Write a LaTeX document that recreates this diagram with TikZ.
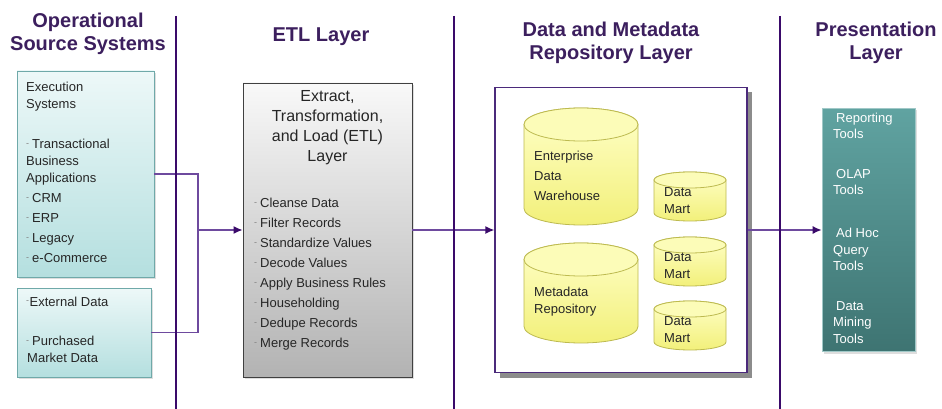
\documentclass[tikz,border=0pt]{standalone}
\usepackage{fontspec}
\setmainfont{Liberation Sans}
\usetikzlibrary{shadows,arrows.meta}
\definecolor{vline}{HTML}{3A0A6A}
\definecolor{ttl}{HTML}{3C1F5E}
\definecolor{conn}{HTML}{6E4A9E}
\definecolor{tip}{HTML}{3A0A6A}
\definecolor{cyanborder}{HTML}{6FA9A9}
\definecolor{cyantop}{HTML}{EDF8F8}
\definecolor{cyanbot}{HTML}{B4DFDF}
\definecolor{presTop}{HTML}{60A3A1}
\definecolor{presBot}{HTML}{3E7472}
\definecolor{cylTop}{HTML}{FFFFC8}
\definecolor{cylBot}{HTML}{F2F07A}
\definecolor{cylBorder}{HTML}{BDBA50}
\definecolor{repoBorder}{HTML}{4B2A7B}
\newcommand{\dbcyl}[5]{%
  \pgfmathsetmacro\cx{(#1+#2)/2}%
  \pgfmathsetmacro\rx{(#2-#1)/2}%
  \path[cylbody] (#1,#3+#5) -- (#1,#4-#5)
     arc[start angle=180,end angle=360,x radius=\rx pt,y radius=#5 pt]
     -- (#2,#3+#5)
     arc[start angle=0,end angle=180,x radius=\rx pt,y radius=#5 pt] -- cycle;
  \path[cyltop] (\cx,#3+#5) ellipse[x radius=\rx pt, y radius=#5 pt];
}
\begin{document}
\begin{tikzpicture}[x=1pt,y=-1pt,
  title/.style={font=\fontsize{20}{23}\selectfont\bfseries, text=ttl, align=center, inner sep=0pt},
  body/.style={font=\fontsize{13}{16}\selectfont, text=black!85, anchor=west, inner sep=0pt, text height=9.5pt, text depth=2.5pt},
  wbody/.style={body, text=white},
  dsh/.style={font=\fontsize{9}{10}\selectfont, text=gray, anchor=west, inner sep=0pt},
  vsep/.style={draw=vline, line width=2.8pt},
  conline/.style={draw=conn, line width=1.5pt},
  conarrow/.style={conline, -{Latex[length=9pt,width=8pt,fill=tip,color=tip]}},
  srcbox/.style={draw=cyanborder, line width=0.8pt, top color=cyantop, bottom color=cyanbot,
     drop shadow={shadow xshift=2pt, shadow yshift=-2pt, fill=gray!50}},
  etlbox/.style={draw=black!75, line width=0.8pt, top color=gray!5, bottom color=gray!60,
     drop shadow={shadow xshift=2pt, shadow yshift=-2pt, fill=gray!50}},
  repobox/.style={draw=repoBorder, line width=1.2pt, fill=white,
     drop shadow={shadow xshift=5pt, shadow yshift=-5pt, fill=black!45, opacity=1}},
  presbox/.style={draw=presTop!60!white, line width=0.6pt, top color=presTop, bottom color=presBot,
     drop shadow={shadow xshift=2pt, shadow yshift=-2pt, fill=gray!50}},
  cylbody/.style={draw=cylBorder, line width=0.8pt, top color=cylTop, bottom color=cylBot},
  cyltop/.style={draw=cylBorder, line width=0.8pt, fill=cylTop!80!cylBot},
]
\useasboundingbox[fill=white] (0,0) rectangle (942,409);

% titles
\node[title] (t1) at (88,34) {Operational\\Source Systems};
\node[title] (t2) at (321,37) {ETL Layer};
\node[title] (t3) at (611,43) {Data and Metadata\\Repository Layer};
\node[title] (t4) at (876,43) {Presentation\\Layer};

% boxes
\node[srcbox, minimum width=137pt, minimum height=206pt, inner sep=0pt] (exec) at (85.5,174) {};
\node[srcbox, minimum width=134pt, minimum height=89pt, inner sep=0pt] (ext) at (84,332.5) {};
\node[etlbox, minimum width=169pt, minimum height=294pt, inner sep=0pt] (etl) at (327.5,230) {};
\node[repobox, minimum width=252pt, minimum height=285pt, inner sep=0pt] (repo) at (621,230) {};
\node[presbox, minimum width=93pt, minimum height=243pt, inner sep=0pt] (pres) at (868.5,230) {};

% connectors
\coordinate (j) at (198,230);
\draw[conline] (exec.east) -| (j);
\draw[conline] (ext.east) -| (j);
\draw[conarrow] (j) -- (etl.west);
\draw[conarrow] (etl.east) -- (repo.west);
\draw[conarrow] (repo.east) -- (pres.west);

% vertical separators
\coordinate (s1t) at (176,16); \coordinate (s1b) at (176,409);
\coordinate (s2t) at (454,16); \coordinate (s2b) at (454,409);
\coordinate (s3t) at (780,16); \coordinate (s3b) at (780,409);
\draw[vsep] (s1t) -- (s1b);
\draw[vsep] (s2t) -- (s2b);
\draw[vsep] (s3t) -- (s3b);

% source box text
\node[body] (e1) at (26,88.5) {Execution};
\node[body] (e2) at (26,105) {Systems};
\node[dsh] (d1) at (26,145.5) {-};
\node[body] (e3) at (32,145.5) {Transactional};
\node[body] (e4) at (26,162) {Business};
\node[body] (e5) at (26,178.5) {Applications};
\node[dsh] (d2) at (26,199) {-};
\node[body] (e6) at (32,199) {CRM};
\node[dsh] (d3) at (26,219) {-};
\node[body] (e7) at (32,219) {ERP};
\node[dsh] (d4) at (26,239) {-};
\node[body] (e8) at (32,239) {Legacy};
\node[dsh] (d5) at (26,259) {-};
\node[body] (e9) at (32,259) {e-Commerce};

\node[dsh] (d6) at (26,302.5) {-};
\node[body] (x1) at (29.5,302.5) {External Data};
\node[dsh] (d7) at (26,342) {-};
\node[body] (x2) at (32,342) {Purchased};
\node[body] (x3) at (27,359) {Market Data};

% ETL text
\node[font=\fontsize{16}{20}\selectfont, text=black!85, align=center, inner sep=0pt] (etlt) at (327.5,128)
  {Extract,\\Transformation,\\and Load (ETL)\\Layer};
\foreach \txt [count=\i] in {Cleanse Data, Filter Records, Standardize Values, Decode Values,
  Apply Business Rules, Householding, Dedupe Records, Merge Records}{
  \node[dsh] (ed\i) at (254,{184+20*\i}) {-};
  \node[body] (el\i) at (260,{184+20*\i}) {\txt};
}

% cylinders
\dbcyl{524}{638}{108}{225}{16.5}
\dbcyl{524}{638}{243}{343}{16.5}
\dbcyl{654}{726}{172}{221}{8}
\dbcyl{654}{726}{237}{286}{8}
\dbcyl{654}{726}{301}{350}{8}

\node[body] (c1) at (534,157) {Enterprise};
\node[body] (c2) at (534,177) {Data};
\node[body] (c3) at (534,197) {Warehouse};
\node[body] (c4) at (534,293) {Metadata};
\node[body] (c5) at (534,310) {Repository};
\node[body] (m1) at (664,193) {Data};
\node[body] (m2) at (664,210) {Mart};
\node[body] (m3) at (664,258) {Data};
\node[body] (m4) at (664,275) {Mart};
\node[body] (m5) at (664,322) {Data};
\node[body] (m6) at (664,339) {Mart};

% presentation text
\node[wbody] (p1) at (836,119) {Reporting};
\node[wbody] (p2) at (833,135) {Tools};
\node[wbody] (p3) at (836,175) {OLAP};
\node[wbody] (p4) at (833,191) {Tools};
\node[wbody] (p5) at (836,234) {Ad Hoc};
\node[wbody] (p6) at (833,251) {Query};
\node[wbody] (p7) at (833,267) {Tools};
\node[wbody] (p8) at (836,307) {Data};
\node[wbody] (p9) at (833,323) {Mining};
\node[wbody] (p10) at (833,340) {Tools};
\end{tikzpicture}
\end{document}
